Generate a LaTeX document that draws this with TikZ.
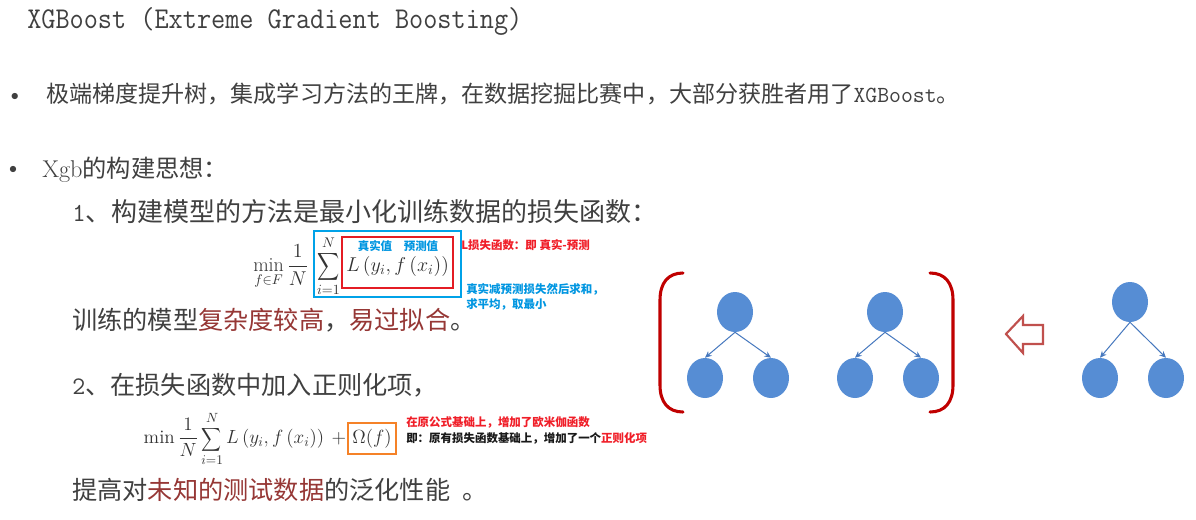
\RequirePackage{fix-cm}
\documentclass[tikz,border=0pt]{standalone}
\usepackage{exscale}
\usepackage{fontspec}
\usepackage{graphicx}
\newfontfamily\cjk{Noto Sans CJK SC}
\usetikzlibrary{shapes.geometric,arrows.meta}
\definecolor{textgray}{RGB}{64,64,64}
\definecolor{darkred}{RGB}{150,55,53}
\definecolor{boxblue}{RGB}{0,162,232}
\definecolor{labelblue}{RGB}{0,150,225}
\definecolor{boxred}{RGB}{228,28,36}
\definecolor{annred}{RGB}{240,30,40}
\definecolor{boxorange}{RGB}{245,130,40}
\definecolor{nodeblue}{RGB}{86,141,212}
\definecolor{edgeblue}{RGB}{70,120,190}
\definecolor{bracketred}{RGB}{192,0,0}
\definecolor{arrowred}{RGB}{192,80,77}
\begin{document}
\begin{tikzpicture}[x=0.75pt,y=-0.75pt,
  txt/.style={anchor=base west,inner sep=0pt,text=textgray},
  bul/.style={inner sep=0pt,text=textgray,font=\fontsize{12}{14}\selectfont},
  mth/.style={inner sep=0pt,text=black!80,font=\fontsize{15}{18}\selectfont},
  mthb/.style={inner sep=0pt,text=black!80,font=\fontsize{14.3}{17}\selectfont},
  ann/.style={anchor=west,inner sep=0pt,font=\cjk\bfseries\fontsize{8.6}{10}\selectfont},
  hlbox/.style={draw,line width=1.5pt,inner sep=0pt},
  treenode/.style={ellipse,fill=nodeblue,draw=none,minimum width=27pt,minimum height=30pt,inner sep=0pt},
  tedge/.style={draw=edgeblue,line width=0.75pt,-{Stealth[length=5pt,width=4.5pt]}},
  brk/.style={draw=bracketred,line width=2.3pt,line cap=round},
]
\useasboundingbox[fill=white] (0,0) rectangle (1196,519);

% title
\node[txt,font=\ttfamily\fontsize{20.6}{24}\selectfont] (title) at (27,28)
  {\scalebox{1}[1.1]{XGBoost (Extreme Gradient Boosting)}};

% bullet 1
\node[bul] (b1) at (15,97) {$\bullet$};
\node[txt,font=\cjk\fontsize{17.3}{20}\selectfont] (l1) at (46,102)
  {极端梯度提升树，集成学习方法的王牌，在数据挖掘比赛中，大部分获胜者用了{\ttfamily XGBoost}。};

% bullet 2
\node[bul] (b2) at (13,170) {$\bullet$};
\node[txt,font=\cjk\fontsize{18.2}{21}\selectfont] (l2) at (42,177)
  {{\rmfamily Xgb}的构建思想：};

% step 1
\node[txt,font=\cjk\fontsize{19.5}{23}\selectfont] (l3) at (72,221.5)
  {{\ttfamily 1}、构建模型的方法是最小化训练数据的损失函数：};

% formula 1
\node[hlbox,draw=boxblue,minimum width=110.25pt,minimum height=49.5pt] (bbox) at (387.5,264) {};
\node[hlbox,draw=boxred,minimum width=83.25pt,minimum height=38.25pt] (rbox) at (397.5,262.5) {};
\node[mth,anchor=base west] (f1a) at (253,271.5) {$\displaystyle\min_{f\in F}\frac{1}{N}$};
\node[mth,anchor=base] (f1s) at (328.5,271.5)
  {$\displaystyle\mathop{\scalebox{0.8}[1]{$\displaystyle\sum$}}\limits_{i=1}^{N}$};
\node[mth,anchor=base west] (f1l) at (346,271.5) {$L\left(y_i,f\left(x_i\right)\right)$};
\node[ann,anchor=center,text=labelblue] (lab1) at (375,246) {真实值};
\node[ann,anchor=center,text=labelblue] (lab2) at (421,246) {预测值};
\node[ann,text=annred] (a1) at (461,245) {L损失函数：即 真实-预测};
\node[ann,text=labelblue] (a2) at (466,289) {真实减预测损失然后求和，};
\node[ann,text=labelblue] (a3) at (466,304) {求平均，取最小};

% overfit line
\node[txt,font=\cjk\fontsize{18.9}{22}\selectfont] (l4) at (72,329)
  {训练的模型\textcolor{darkred}{复杂度较高}，\textcolor{darkred}{易过拟合}。};

% step 2
\node[txt,font=\cjk\fontsize{18.9}{22}\selectfont] (l5) at (72,394.5)
  {{\ttfamily 2}、在损失函数中加入正则化项，};

% formula 2
\node[mthb,hlbox,draw=boxorange,minimum width=36pt,minimum height=23.25pt] (om) at (372,438.5) {$\Omega(f)$};
\node[mthb,anchor=base east] (f2) at ([xshift=-0.5pt]om.west |- 0,443.5)
  {$\displaystyle\min\frac{1}{N}\mathop{\scalebox{0.72}[0.85]{$\displaystyle\sum$}}\limits_{i=1}^{N}L\left(y_i,f\left(x_i\right)\right)\mskip\medmuskip+$};
\node[ann,text=annred] (a4) at (406,422) {在原公式基础上，增加了欧米伽函数};
\node[ann,text=black!90] (a5) at (406,438) {即：原有损失函数基础上，增加了一个\textcolor{annred}{正则化项}};

% generalization line
\node[txt,font=\cjk\fontsize{18.9}{22}\selectfont] (l6) at (72,499)
  {提高对\textcolor{darkred}{未知的测试数据}的泛化性能\hspace{0.5em}。};

% brackets
\draw[brk] (683,273) .. controls (668,273) and (660,283) .. (660,300) -- (660,385) .. controls (660,402) and (668,412) .. (683,412);
\draw[brk] (930,273) .. controls (945,273) and (953,283) .. (953,300) -- (953,385) .. controls (953,402) and (945,412) .. (930,412);

% trees
\node[treenode] (r1) at (735,312) {};
\node[treenode] (c11) at (705,378) {};
\node[treenode] (c12) at (771,378) {};
\node[treenode] (r2) at (885,312) {};
\node[treenode] (c21) at (855,378) {};
\node[treenode] (c22) at (921,378) {};
\node[treenode] (r3) at (1130,302) {};
\node[treenode] (c31) at (1100,378) {};
\node[treenode] (c32) at (1166,378) {};
\draw[tedge] (r1.south) -- (c11.north);
\draw[tedge] (r1.south) -- (c12.north);
\draw[tedge] (r2.south) -- (c21.north);
\draw[tedge] (r2.south) -- (c22.north);
\draw[tedge] (r3.south) -- (c31.north);
\draw[tedge] (r3.south) -- (c32.north);

% hollow arrow
\draw[draw=arrowred,line width=1.6pt,fill=white,line join=miter]
  (1006,334) -- (1023,316) -- (1023,325) -- (1043,325) -- (1043,344) -- (1023,344) -- (1023,353) -- cycle;
\end{tikzpicture}
\end{document}
